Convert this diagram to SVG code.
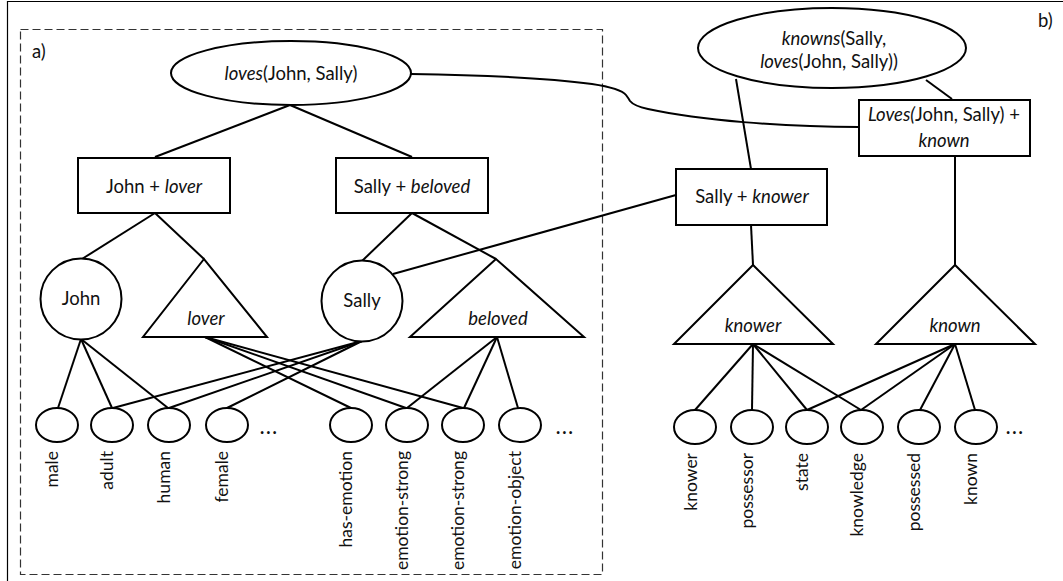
<svg xmlns="http://www.w3.org/2000/svg" width="1063" height="581" viewBox="0 0 1063 581">
  <style>
    .shape { fill: #fff; stroke: #000; stroke-width: 2; }
    .edge { fill: none; stroke: #000; stroke-width: 2; }
    .frame { fill: none; stroke: #000; stroke-width: 1.2; }
    .dash { fill: none; stroke: #333; stroke-width: 1.2; stroke-dasharray: 8 4; }
    text { font-family: Lato, "Liberation Sans", sans-serif; font-size: 18.5px; fill: #111; }
    .c { text-anchor: middle; }
    .it { font-style: italic; }
    .lbl { font-size: 17.5px; text-anchor: end; }
    .dots { font-size: 18px; font-weight: bold; letter-spacing: 2px; }
  </style>

  <!-- outer frame and panel a) boundary -->
  <path class="frame" d="M7.5,581 V1.5 H1063"/>
  <rect class="dash" x="20.5" y="29.5" width="582" height="545"/>
  <text x="32" y="58">a)</text>
  <text x="1038" y="27">b)</text>

  <!-- connectors -->
  <g id="connectors">
    <line class="edge" x1="290" y1="105" x2="155" y2="157"/>
    <line class="edge" x1="290" y1="105" x2="412" y2="157"/>
    <line class="edge" x1="155" y1="213" x2="82" y2="259"/>
    <line class="edge" x1="155" y1="213" x2="204" y2="259"/>
    <line class="edge" x1="412" y1="213" x2="362" y2="261"/>
    <line class="edge" x1="412" y1="213" x2="496" y2="259"/>
    <line class="edge" x1="393" y1="274" x2="676" y2="195"/>
    <!-- John -->
    <line class="edge" x1="81" y1="339" x2="58" y2="408"/>
    <line class="edge" x1="81" y1="339" x2="112" y2="408"/>
    <line class="edge" x1="81" y1="339" x2="168" y2="408"/>
    <!-- Sally -->
    <line class="edge" x1="362" y1="341" x2="113" y2="408"/>
    <line class="edge" x1="362" y1="341" x2="169" y2="408"/>
    <line class="edge" x1="362" y1="341" x2="227" y2="408"/>
    <!-- lover -->
    <line class="edge" x1="205" y1="337" x2="351" y2="408"/>
    <line class="edge" x1="205" y1="337" x2="406" y2="408"/>
    <line class="edge" x1="205" y1="337" x2="463" y2="408"/>
    <!-- beloved -->
    <line class="edge" x1="497" y1="337" x2="407" y2="408"/>
    <line class="edge" x1="497" y1="337" x2="464" y2="408"/>
    <line class="edge" x1="497" y1="337" x2="518" y2="408"/>
    <!-- cross-panel link -->
    <path class="edge" d="M411,74 C480,75 548,78 592,84 C612,87 622,90 626,95 Q629,99 630,101 Q634,106 648,109 C700,120 780,127 859,127"/>
    <!-- panel b) -->
    <line class="edge" x1="736" y1="79" x2="751" y2="169"/>
    <line class="edge" x1="926" y1="80" x2="952" y2="99"/>
    <line class="edge" x1="751" y1="225" x2="753" y2="265"/>
    <line class="edge" x1="955" y1="156" x2="955" y2="265"/>
    <line class="edge" x1="753" y1="344" x2="695" y2="410"/>
    <line class="edge" x1="753" y1="344" x2="752" y2="410"/>
    <line class="edge" x1="753" y1="344" x2="807" y2="410"/>
    <line class="edge" x1="753" y1="344" x2="861" y2="410"/>
    <line class="edge" x1="955" y1="344" x2="807" y2="410"/>
    <line class="edge" x1="955" y1="344" x2="861" y2="410"/>
    <line class="edge" x1="955" y1="344" x2="920" y2="410"/>
    <line class="edge" x1="955" y1="344" x2="975" y2="410"/>
  </g>

  <!-- panel a) nodes -->
  <g id="loves">
    <ellipse class="shape" cx="291" cy="73" rx="120" ry="32"/>
    <text class="c" x="291" y="80"><tspan class="it">loves</tspan>(John, Sally)</text>
  </g>
  <g id="john-lover">
    <rect class="shape" x="78" y="158" width="152" height="55"/>
    <text class="c" x="154" y="193">John + <tspan class="it">lover</tspan></text>
  </g>
  <g id="sally-beloved">
    <rect class="shape" x="336" y="158" width="152" height="55"/>
    <text class="c" x="412" y="193">Sally + <tspan class="it">beloved</tspan></text>
  </g>
  <g id="john">
    <circle class="shape" cx="81" cy="299" r="40.5"/>
    <text class="c" x="81" y="305">John</text>
  </g>
  <g id="lover">
    <polygon class="shape" points="204,259 143,337 267,337"/>
    <text class="c it" x="206" y="325">lover</text>
  </g>
  <g id="sally">
    <circle class="shape" cx="362" cy="301" r="40.5"/>
    <text class="c" x="362" y="307">Sally</text>
  </g>
  <g id="beloved">
    <polygon class="shape" points="496,259 410,337 584,337"/>
    <text class="c it" x="498" y="325">beloved</text>
  </g>

  <!-- panel a) feature nodes -->
  <g id="f-male"><ellipse class="shape" cx="57" cy="425" rx="21" ry="17"/><text class="lbl" transform="translate(58,451) rotate(-90)">male</text></g>
  <g id="f-adult"><ellipse class="shape" cx="112" cy="425" rx="21" ry="17"/><text class="lbl" transform="translate(113,451) rotate(-90)">adult</text></g>
  <g id="f-human"><ellipse class="shape" cx="169" cy="425" rx="21" ry="17"/><text class="lbl" transform="translate(170,451) rotate(-90)">human</text></g>
  <g id="f-female"><ellipse class="shape" cx="227" cy="425" rx="21" ry="17"/><text class="lbl" transform="translate(228,451) rotate(-90)">female</text></g>
  <text class="dots" x="260" y="434">...</text>
  <g id="f-has-emotion"><ellipse class="shape" cx="351" cy="425" rx="21" ry="17"/><text class="lbl" transform="translate(352,451) rotate(-90)">has-emotion</text></g>
  <g id="f-emotion-strong-1"><ellipse class="shape" cx="407" cy="425" rx="21" ry="17"/><text class="lbl" transform="translate(408,451) rotate(-90)">emotion-strong</text></g>
  <g id="f-emotion-strong-2"><ellipse class="shape" cx="463" cy="425" rx="21" ry="17"/><text class="lbl" transform="translate(464,451) rotate(-90)">emotion-strong</text></g>
  <g id="f-emotion-object"><ellipse class="shape" cx="520" cy="425" rx="21" ry="17"/><text class="lbl" transform="translate(521,451) rotate(-90)">emotion-object</text></g>
  <text class="dots" x="556" y="434">...</text>

  <!-- panel b) nodes -->
  <g id="knowns">
    <ellipse class="shape" cx="832" cy="48" rx="134" ry="40"/>
    <text class="c" x="834" y="45"><tspan class="it">knowns</tspan>(Sally,</text>
    <text class="c" x="829" y="68"><tspan class="it">loves</tspan>(John, Sally))</text>
  </g>
  <g id="loves-known">
    <rect class="shape" x="859" y="100" width="171" height="56"/>
    <text class="c" x="944" y="121"><tspan class="it">Loves(</tspan>John, Sally) +</text>
    <text class="c it" x="944" y="147">known</text>
  </g>
  <g id="sally-knower">
    <rect class="shape" x="676" y="169" width="151" height="56"/>
    <text class="c" x="752" y="203">Sally + <tspan class="it">knower</tspan></text>
  </g>
  <g id="knower">
    <polygon class="shape" points="753,265 674,344 833,344"/>
    <text class="c it" x="753" y="332">knower</text>
  </g>
  <g id="known">
    <polygon class="shape" points="955,265 876,344 1035,344"/>
    <text class="c it" x="955" y="332">known</text>
  </g>

  <!-- panel b) feature nodes -->
  <g id="g-knower"><ellipse class="shape" cx="695" cy="427" rx="21" ry="17"/><text class="lbl" transform="translate(697,453) rotate(-90)">knower</text></g>
  <g id="g-possessor"><ellipse class="shape" cx="752" cy="427" rx="21" ry="17"/><text class="lbl" transform="translate(753,453) rotate(-90)">possessor</text></g>
  <g id="g-state"><ellipse class="shape" cx="807" cy="427" rx="21" ry="17"/><text class="lbl" transform="translate(808,453) rotate(-90)">state</text></g>
  <g id="g-knowledge"><ellipse class="shape" cx="862" cy="427" rx="21" ry="17"/><text class="lbl" transform="translate(863,453) rotate(-90)">knowledge</text></g>
  <g id="g-possessed"><ellipse class="shape" cx="919" cy="427" rx="21" ry="17"/><text class="lbl" transform="translate(920,453) rotate(-90)">possessed</text></g>
  <g id="g-known"><ellipse class="shape" cx="976" cy="427" rx="21" ry="17"/><text class="lbl" transform="translate(977,453) rotate(-90)">known</text></g>
  <text class="dots" x="1006" y="434">...</text>
</svg>
